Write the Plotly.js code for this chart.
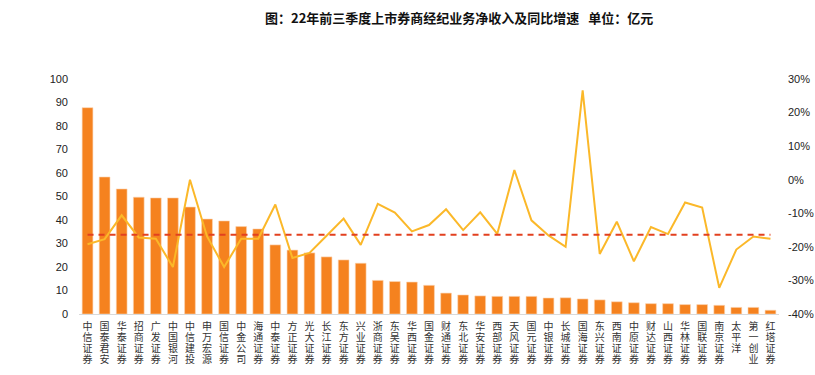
<!DOCTYPE html>
<html>
<head>
<meta charset="utf-8">
<script src="https://cdn.plot.ly/plotly-3.0.1.min.js"></script>
<style>html,body{margin:0;padding:0;background:#fff;}#chart{width:815px;height:375px;}</style>
</head>
<body>
<div id="chart"></div>
<script>
const brokers = ["中信证券","国泰君安","华泰证券","招商证券","广发证券","中国银河","中信建投","申万宏源","国信证券","中金公司",
  "海通证券","中泰证券","方正证券","光大证券","长江证券","东方证券","兴业证券","浙商证券","东吴证券","华西证券",
  "国金证券","财通证券","东北证券","华安证券","西部证券","天风证券","国元证券","中银证券","长城证券","国海证券",
  "东兴证券","西南证券","中原证券","财达证券","山西证券","华林证券","国联证券","南京证券","太平洋","第一创业","红塔证券"];
const netIncome = [87.8,58.3,53.2,49.7,49.4,49.4,45.5,40.4,39.6,37.2,
  36.2,29.4,27.2,26.0,24.3,23.0,21.6,14.3,13.8,13.6,
  12.2,8.9,8.1,7.7,7.5,7.5,7.5,6.8,6.9,6.4,
  6.0,5.2,4.8,4.4,4.4,4.0,4.0,3.7,2.8,2.8,1.6];
const yoyGrowth = [-19.2,-17.7,-10.6,-17.2,-17.6,-26.0,0.0,-16.9,-26.0,-17.6,
  -17.6,-7.4,-23.3,-21.8,-16.7,-11.6,-19.4,-7.2,-9.8,-15.4,
  -13.5,-8.8,-15.0,-9.7,-16.1,2.9,-12.1,-16.6,-20.0,26.6,
  -22.1,-12.5,-24.3,-14.1,-16.2,-6.8,-8.3,-32.2,-20.8,-16.9,-17.6];
const avgGrowth = -16.4;
const leftTicks = [0,10,20,30,40,50,60,70,80,90,100];
const rightTicks = [-40,-30,-20,-10,0,10,20,30];

const tickText = brokers.map(s => Array.from(s).join("<br>"));

const traces = [
  {type:"bar", x:brokers, y:netIncome, marker:{color:"#F5821F", line:{color:"#FBD3B0", width:0.6}}, hoverinfo:"x+y"},
  {type:"scatter", mode:"lines", x:brokers, y:yoyGrowth, yaxis:"y2", line:{color:"#FBB829", width:2}},
  {type:"scatter", mode:"lines", x:[brokers[0], brokers[brokers.length-1]], y:[avgGrowth, avgGrowth], yaxis:"y2",
   line:{color:"#E2401F", width:2, dash:"6px,5px"}}
];

const layout = {
  width:815, height:375,
  margin:{l:79, r:36, t:79, b:61, pad:0},
  paper_bgcolor:"#fff", plot_bgcolor:"#fff",
  showlegend:false,
  bargap:0.37,
  font:{family:"Liberation Sans, Noto Sans CJK SC, sans-serif", size:11, color:"#222"},
  title:{text:"<b>图：22年前三季度上市券商经纪业务净收入及同比增速   单位：亿元</b>",
    x:0.543, xanchor:"center", y:0.95, yanchor:"middle", xref:"paper",
    font:{family:"Noto Sans CJK SC, sans-serif", size:13, color:"#111"}},
  xaxis:{type:"category", range:[-0.5, brokers.length-0.5], tickmode:"array", tickvals:brokers, ticktext:tickText,
    tickangle:0, showgrid:false, zeroline:false, showline:true, linecolor:"#d9d9d9", linewidth:1, ticks:"",
    tickfont:{family:"Noto Sans CJK SC, sans-serif", size:10, color:"#333"}, fixedrange:true},
  yaxis:{range:[0,100], tickvals:leftTicks, showgrid:false, zeroline:false, showline:false, ticks:"",
    ticklabelstandoff:10, tickfont:{size:11, color:"#222"}},
  yaxis2:{range:[-40,30], overlaying:"y", side:"right", tickvals:rightTicks, ticktext:rightTicks.map(v=>v+"%"),
    showgrid:false, zeroline:false, showline:false, ticks:"", ticklabelstandoff:8, tickfont:{size:11, color:"#222"}}
};

Plotly.newPlot("chart", traces, layout, {displayModeBar:false, staticPlot:true}).then(() => {
  const NS = "http://www.w3.org/2000/svg";
  document.querySelectorAll(".xtick text").forEach(t => {
    const spans = t.querySelectorAll("tspan.line");
    if (!spans.length) return;
    const lines = Array.from(spans).map(s => s.textContent);
    const bb = t.getBBox();
    const tx = t.getAttribute("x");
    const top = bb.y;
    while (t.firstChild) t.removeChild(t.firstChild);
    lines.forEach((txt, i) => {
      const sp = document.createElementNS(NS, "tspan");
      sp.setAttribute("x", tx);
      sp.setAttribute("y", (top + 14.5 + i * 11).toFixed(1));
      sp.textContent = txt;
      t.appendChild(sp);
    });
  });
});
</script>
</body>
</html>
